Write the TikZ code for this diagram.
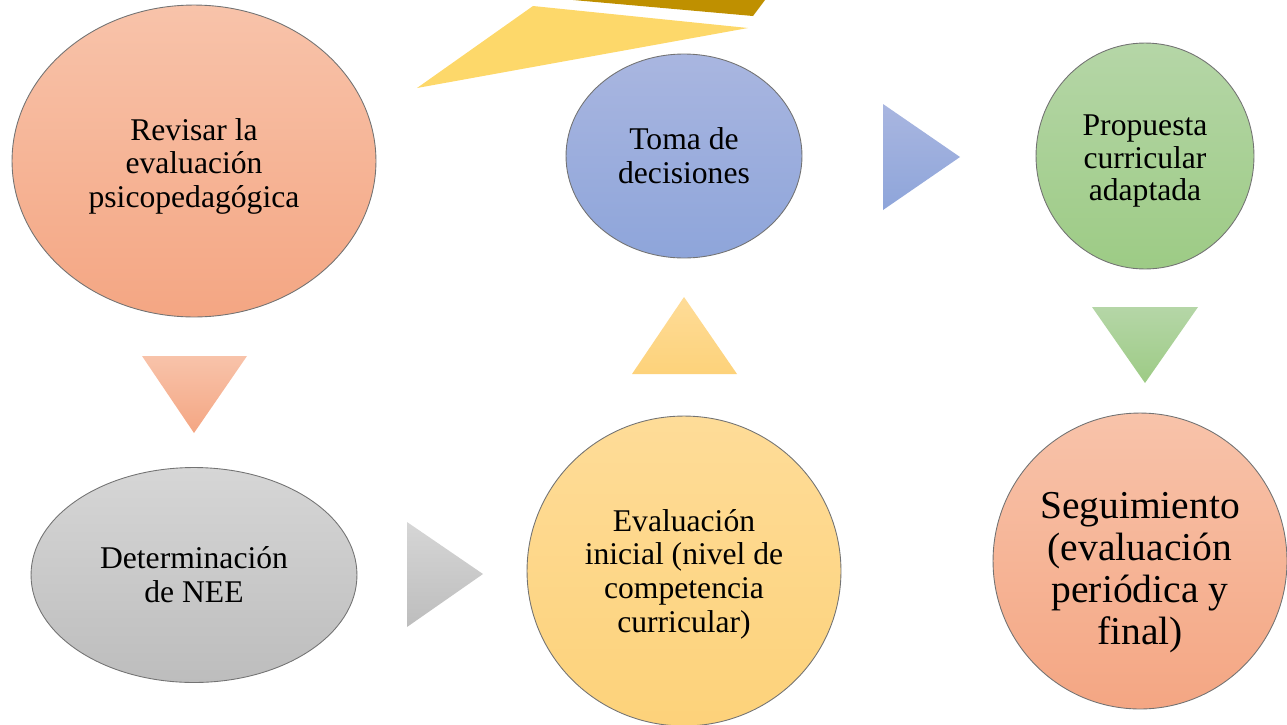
\documentclass[tikz,border=0pt]{standalone}
\usepackage{fontspec}
\setmainfont{Liberation Serif}
\usepackage{xcolor}
\usepackage{tikz}
\usetikzlibrary{shapes.geometric,positioning,calc}

\definecolor{salmonA}{HTML}{F8C3AA}
\definecolor{salmonB}{HTML}{F4A683}
\definecolor{blueA}{HTML}{A9B6E0}
\definecolor{blueB}{HTML}{8EA5DA}
\definecolor{greenA}{HTML}{B5D6A7}
\definecolor{greenB}{HTML}{9DCB85}
\definecolor{grayA}{HTML}{D6D6D6}
\definecolor{grayB}{HTML}{BDBDBD}
\definecolor{yellowA}{HTML}{FEDC98}
\definecolor{yellowB}{HTML}{FDD27A}
\definecolor{sliver}{HTML}{FDD86A}
\definecolor{gold}{HTML}{BF9000}

% strut on the first line, pushes the text block a bit down
\newcommand{\lift}[1]{\rule{0pt}{#1}}

\begin{document}
\begin{tikzpicture}[x=0.02cm,y=-0.02cm,
    bubble/.style={ellipse,draw=black!55,line width=0.5pt,inner sep=0pt,align=center,
      font=\fontsize{18pt}{19.2pt}\selectfont},
    salmon/.style={top color=salmonA,bottom color=salmonB},
    bluish/.style={top color=blueA,bottom color=blueB},
    greenish/.style={top color=greenA,bottom color=greenB},
    grayish/.style={top color=grayA,bottom color=grayB},
    yellowish/.style={top color=yellowA,bottom color=yellowB}]

    \useasboundingbox (0,0) rectangle (1287,724);

    % main steps
    \node[bubble,salmon,minimum width=7.28cm,minimum height=6.24cm] (rev) at (194,161)
    {\lift{18.5pt}Revisar la\\evaluación\\psicopedagógica};
    \node[bubble,grayish,minimum width=6.52cm,minimum height=4.30cm] (nee) at (194,575)
    {Determinación\\de NEE};
    \node[bubble,yellowish,minimum width=6.28cm,minimum height=6.2cm] (ini) at (684,571)
    {\lift{16pt}Evaluación\\inicial (nivel de\\competencia\\curricular)};
    \node[bubble,bluish,minimum width=4.72cm,minimum height=4.08cm] (dec) at (684,156)
    {Toma de\\decisiones};
    \node[bubble,greenish,minimum width=4.36cm,minimum height=4.52cm,
      font=\fontsize{18pt}{18.4pt}\selectfont] (prop) at (1145,156)
    {\lift{17.5pt}Propuesta\\curricular\\adaptada};
    \node[bubble,salmon,minimum width=5.88cm,minimum height=5.92cm,
      font=\fontsize{22.5pt}{23.8pt}\selectfont] (seg) at (1140,561)
    {\lift{28pt}Seguimiento\\(evaluación\\periódica y\\final)};

    % arrows between steps
    \shade[salmon] (142,356) -- (247,356) -- (194,433) -- cycle;
    \shade[grayish] (407,522) -- (483,574) -- (407,627) -- cycle;
    \shade[yellowish] (632,374) -- (684,297) -- (737,374) -- cycle;
    \shade[bluish] (883,104) -- (960,157) -- (883,210) -- cycle;
    \shade[greenish] (1092,307) -- (1198,307) -- (1145,383) -- cycle;

    % stray shapes at the top
    \fill[sliver] (417,88) -- (533,6) -- (748,28) -- cycle;
    \fill[gold] (573,0) -- (765,0) -- (753,16) -- cycle;

\end{tikzpicture}
\end{document}
